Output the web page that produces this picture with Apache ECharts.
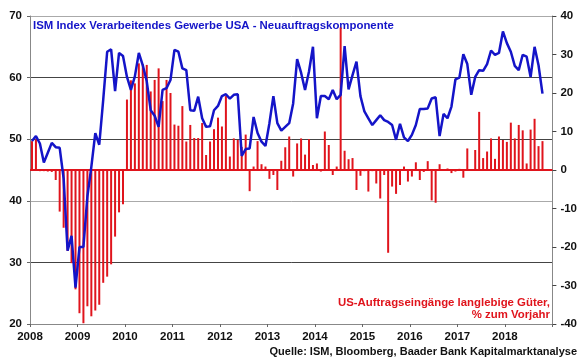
<!DOCTYPE html>
<html><head><meta charset="utf-8">
<script src="https://cdn.jsdelivr.net/npm/echarts@6/dist/echarts.min.js"></script>
<style>html,body{margin:0;padding:0;background:#fff}#c{width:580px;height:359px}</style>
</head><body><div id="c"></div>
<script>
const startYear = 2008;
const yearTicks = [2008,2009,2010,2011,2012,2013,2014,2015,2016,2017,2018];
const leftTicks = [20,30,40,50,60,70];
const rightTicks = [-40,-30,-20,-10,0,10,20,30,40];
// ISM new orders index (monthly, Jan 2008 - Oct 2018)
const ism2008 = [49.7,50.5,49.3,46.2,47.8,49.4,48.7,48.6,43.6,31.9,34.3,25.9];
const ism2009 = [32.5,32.5,40.7,45.5,51.0,49.1,56.4,64.2,64.6,57.8,64.0,63.5];
const ism2010 = [60.1,58.0,60.2,64.0,62.0,59.4,54.7,53.8,52.0,58.0,58.3,59.6];
const ism2011 = [64.5,64.2,61.5,61.2,54.7,54.6,56.9,53.4,52.0,52.1,54.7,55.4];
const ism2012 = [57.0,57.3,56.6,57.2,57.3,47.3,48.4,48.5,53.6,51.0,49.6,48.9];
const ism2013 = [52.6,57.0,52.6,51.4,52.0,52.6,55.8,63.0,60.8,58.0,61.0,65.0];
const ism2014 = [53.4,57.0,57.0,56.5,58.0,56.5,57.2,65.1,58.1,60.4,62.6,57.0];
const ism2015 = [54.5,53.4,52.3,53.1,53.9,53.1,52.8,52.3,49.9,52.5,50.3,49.7];
const ism2016 = [50.7,52.3,54.9,54.9,55.0,56.6,56.8,50.5,54.1,53.4,55.3,59.7];
const ism2017 = [60.0,63.8,62.2,57.2,60.1,61.2,61.1,62.2,64.4,63.7,64.0,67.5];
const ism2018 = [65.6,64.2,61.9,61.2,63.7,63.4,60.1,65.0,62.0,57.4];
// US durable goods orders, % y/y
const dg2008 = [7.5,8.0,-0.3,-0.3,-0.4,-0.5,-2.6,-10.8,-15,-21,-24.2,-31];
const dg2009 = [-37.2,-39.8,-35.4,-38,-36.5,-35,-29.3,-27.7,-24.5,-17.3,-11,-8.9];
const dg2010 = [18.3,23.3,22.5,27.7,27.5,27.3,20.4,23.4,26.4,17.9,23.4,20];
const dg2011 = [11.8,11.5,16.6,7.4,11.7,8.3,8.3,12.2,3.9,7.4,10.6,13.6];
const dg2012 = [11.3,19.2,3.5,8.2,7.8,6.0,9.2,-5.5,0.9,7.5,1.5,0.9];
const dg2013 = [-2.3,-1.3,-5.2,2.4,5.9,8.7,-1.7,6.9,8.2,4.0,8.0,1.3];
const dg2014 = [1.7,-0.4,10.0,6.5,-1.3,0.9,37,5.0,2.8,3.1,-5.2,-1.5];
const dg2015 = [-0.3,-5.6,-0.3,-3.5,-7.4,-1.3,-21.5,-4.3,-6.2,-3.9,0.9,-3.0];
const dg2016 = [-1.7,2.0,-2.6,-0.5,2.3,-7.9,-8.5,1.5,0.2,0.4,-0.8,-0.4];
const dg2017 = [0.3,-2.0,5.6,0.2,5.2,15.1,3.1,4.8,8.2,2.9,8.7,7.8];
const dg2018 = [7.3,12.3,8.2,11.7,10.3,1.7,10.5,13.3,6.2,7.5];

const ism = [].concat(ism2008,ism2009,ism2010,ism2011,ism2012,ism2013,ism2014,ism2015,ism2016,ism2017,ism2018);
const dg = [].concat(dg2008,dg2009,dg2010,dg2011,dg2012,dg2013,dg2014,dg2015,dg2016,dg2017,dg2018);
const monthPos = i => startYear + (i + 0.5) / 12;

const FONT = 'Liberation Sans, Arial, sans-serif';
const chart = echarts.init(document.getElementById('c'), null, {renderer:'canvas'});
chart.setOption({
  animation:false,
  backgroundColor:'#fff',
  grid:{left:30,right:27,top:16,bottom:35},
  xAxis:{
    type:'value', min:yearTicks[0], max:yearTicks[yearTicks.length-1]+1, interval:1,
    axisLine:{show:true,onZero:false,lineStyle:{color:'#888',width:1}},
    axisTick:{show:true,length:3,lineStyle:{color:'#666'}},
    splitLine:{show:false},
    axisLabel:{color:'#111',fontFamily:FONT,fontWeight:'bold',fontSize:11.5,margin:7,
      formatter:v=>yearTicks.indexOf(v)>=0?String(v):''}
  },
  yAxis:[{
    type:'value', min:leftTicks[0], max:leftTicks[leftTicks.length-1], interval:10,
    axisLine:{show:true,lineStyle:{color:'#888'}},
    axisTick:{show:true,length:3,lineStyle:{color:'#666'}},
    axisLabel:{color:'#111',fontFamily:FONT,fontWeight:'bold',fontSize:11.5,margin:8},
    splitLine:{show:true,lineStyle:{color:['#888','#444','#aaa','#444','#444','#aaa'],width:1}}
  },{
    type:'value', position:'right', min:rightTicks[0], max:rightTicks[rightTicks.length-1], interval:10,
    axisLine:{show:true,lineStyle:{color:'#888'}},
    axisTick:{show:true,length:4,inside:false,lineStyle:{color:'#444'}},
    axisLabel:{color:'#111',fontFamily:FONT,fontWeight:'bold',fontSize:11.5,margin:8},
    splitLine:{show:false}
  }],
  series:[{
    type:'bar', yAxisIndex:1, barWidth:2,
    itemStyle:{color:'#e0141c'},
    data: dg.map((v,i)=>[monthPos(i), v]),
    markLine:{silent:true,symbol:'none',label:{show:false},
      lineStyle:{color:'#e0141c',width:2,type:'solid'},data:[{yAxis:0}]}
  },{
    type:'line', yAxisIndex:0, showSymbol:false, symbol:'none',
    lineStyle:{color:'#1414c8',width:2.5},
    data: ism.map((v,i)=>[monthPos(i), v]),
    z:5
  }],
  graphic:[
    {type:'text',left:33,top:20,style:{text:'ISM Index Verarbeitendes Gewerbe USA - Neuauftragskomponente',
      fill:'#1414c8',font:'bold 11.4px '+FONT}},
    {type:'text',right:30,top:297,style:{text:'US-Auftragseingänge langlebige Güter,',
      fill:'#e0141c',font:'bold 11.4px '+FONT,textAlign:'right'}},
    {type:'text',right:30,top:309,style:{text:'% zum Vorjahr',
      fill:'#e0141c',font:'bold 11.4px '+FONT,textAlign:'right'}},
    {type:'text',right:3,top:346,style:{text:'Quelle: ISM, Bloomberg, Baader Bank Kapitalmarktanalyse',
      fill:'#111',font:'bold 11px '+FONT,textAlign:'right'}}
  ]
});
</script></body></html>
